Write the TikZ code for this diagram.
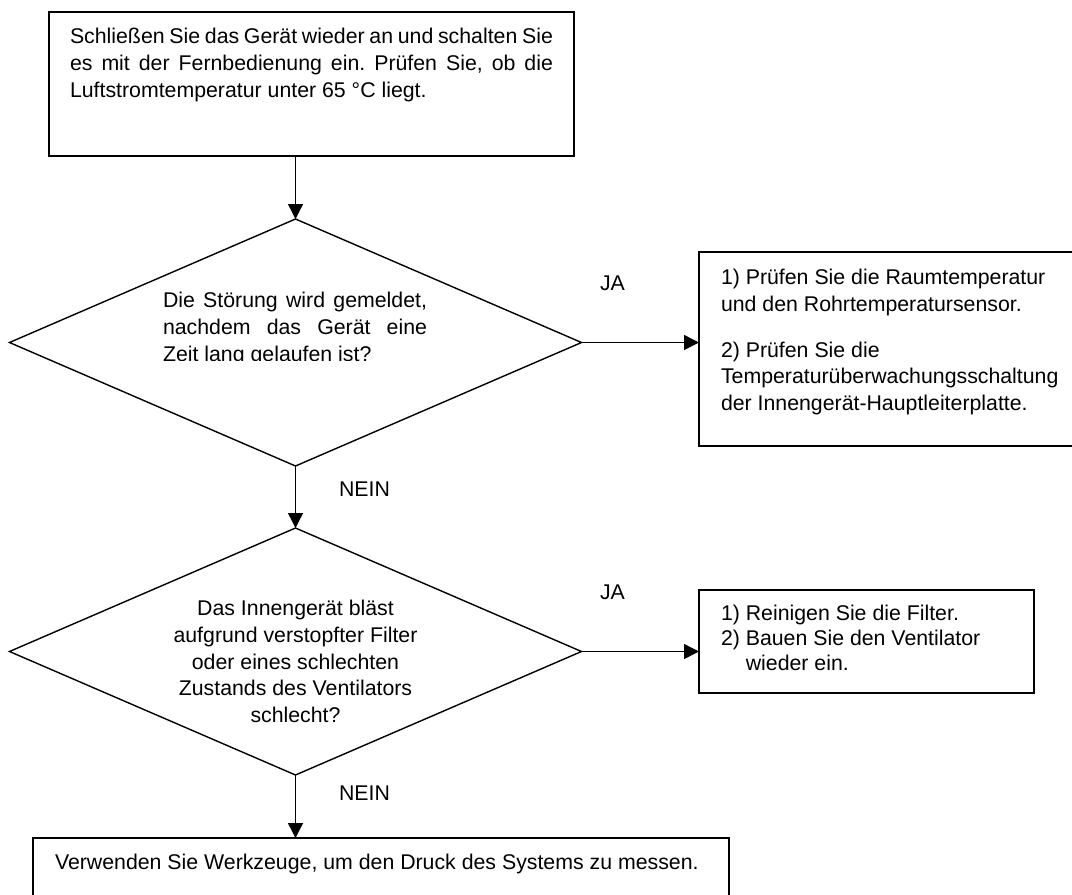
\documentclass[tikz,border=0pt]{standalone}
\usepackage{fontspec}
\setmainfont{Liberation Sans}
\frenchspacing
\usetikzlibrary{shapes.geometric,arrows.meta}
\tikzset{
  box/.style={draw=black, line width=1.4pt, rectangle, inner sep=0pt, outer sep=0pt, anchor=north west},
  decision/.style={draw=black, line width=1.4pt, diamond, inner sep=0pt, outer sep=0pt, minimum width=572pt, minimum height=247pt},
  lbl/.style={inner sep=0pt, outer sep=0pt, anchor=base west, font=\fontsize{21.3pt}{26.8pt}\selectfont},
  flow/.style={line width=1.4pt, -{Triangle[length=15pt,width=15pt]}}
}
\begin{document}
\begin{tikzpicture}[x=1pt,y=-1pt]
\useasboundingbox (0,0) rectangle (1072,895);
\clip (0,0) rectangle (1072,895);
% shapes
\node[box, minimum width=525pt, minimum height=144pt] (start) at (49,12) {};
\node[decision] (d1) at (295.5,342.5) {};
\node[decision] (d2) at (295.5,651.5) {};
\node[box, minimum width=381pt, minimum height=194pt] (r1) at (699,252) {};
\node[box, minimum width=335pt, minimum height=103pt] (r2) at (699,590) {};
\node[box, minimum width=696pt, minimum height=70pt] (endb) at (33,838) {};
% texts
\node[lbl] (t0) at (70,43.5) {\begin{tabular}[t]{@{}l@{}}\makebox[483pt][s]{Schließen Sie das Gerät wieder an und schalten Sie}\\
\makebox[483pt][s]{es mit der Fernbedienung ein. Prüfen Sie, ob die}\\
Luftstromtemperatur unter 65 °C liegt.\end{tabular}};
\begin{scope}
\clip (0,0) rectangle (1072,360);
\node[lbl] (t1) at (163,307.5) {\begin{tabular}[t]{@{}l@{}}\makebox[264pt][s]{Die Störung wird gemeldet,}\\
\makebox[264pt][s]{nachdem das Gerät eine}\\
Zeit lang gelaufen ist?\end{tabular}};
\end{scope}
\node[lbl] (t2) at (721,284.5) {\begin{tabular}[t]{@{}l@{}}1) Prüfen Sie die Raumtemperatur\\
und den Rohrtemperatursensor.\\[19pt]
2) Prüfen Sie die\\
Temperaturüberwachungsschaltung\\
der Innengerät-Hauptleiterplatte.\end{tabular}};
\node[lbl, anchor=base] (t3) at (295.5,615.5) {\begin{tabular}[t]{@{}c@{}}Das Innengerät bläst\\
aufgrund verstopfter Filter\\
oder eines schlechten\\
Zustands des Ventilators\\
schlecht?\end{tabular}};
\node[lbl, font=\fontsize{21.3pt}{25pt}\selectfont] (t4) at (721,620) {\begin{tabular}[t]{@{}l@{\ }l@{}}1) & Reinigen Sie die Filter.\\
2) & Bauen Sie den Ventilator\\
 & wieder ein.\end{tabular}};
\node[lbl] (t5) at (55,869.5) {Verwenden Sie Werkzeuge, um den Druck des Systems zu messen.};
\node[lbl] (ja1) at (600,290.5) {JA};
\node[lbl] (ja2) at (600,599.5) {JA};
\node[lbl] (nein1) at (339,496.5) {NEIN};
\node[lbl] (nein2) at (339,800.5) {NEIN};
% connectors
\draw[flow] (d1.north |- start.south) -- (d1.north);
\draw[flow] (d1.east) -- (d1.east -| r1.west);
\draw[flow] (d1.south) -- (d2.north);
\draw[flow] (d2.east) -- (d2.east -| r2.west);
\draw[flow] (d2.south) -- (d2.south |- endb.north);
\end{tikzpicture}
\end{document}
